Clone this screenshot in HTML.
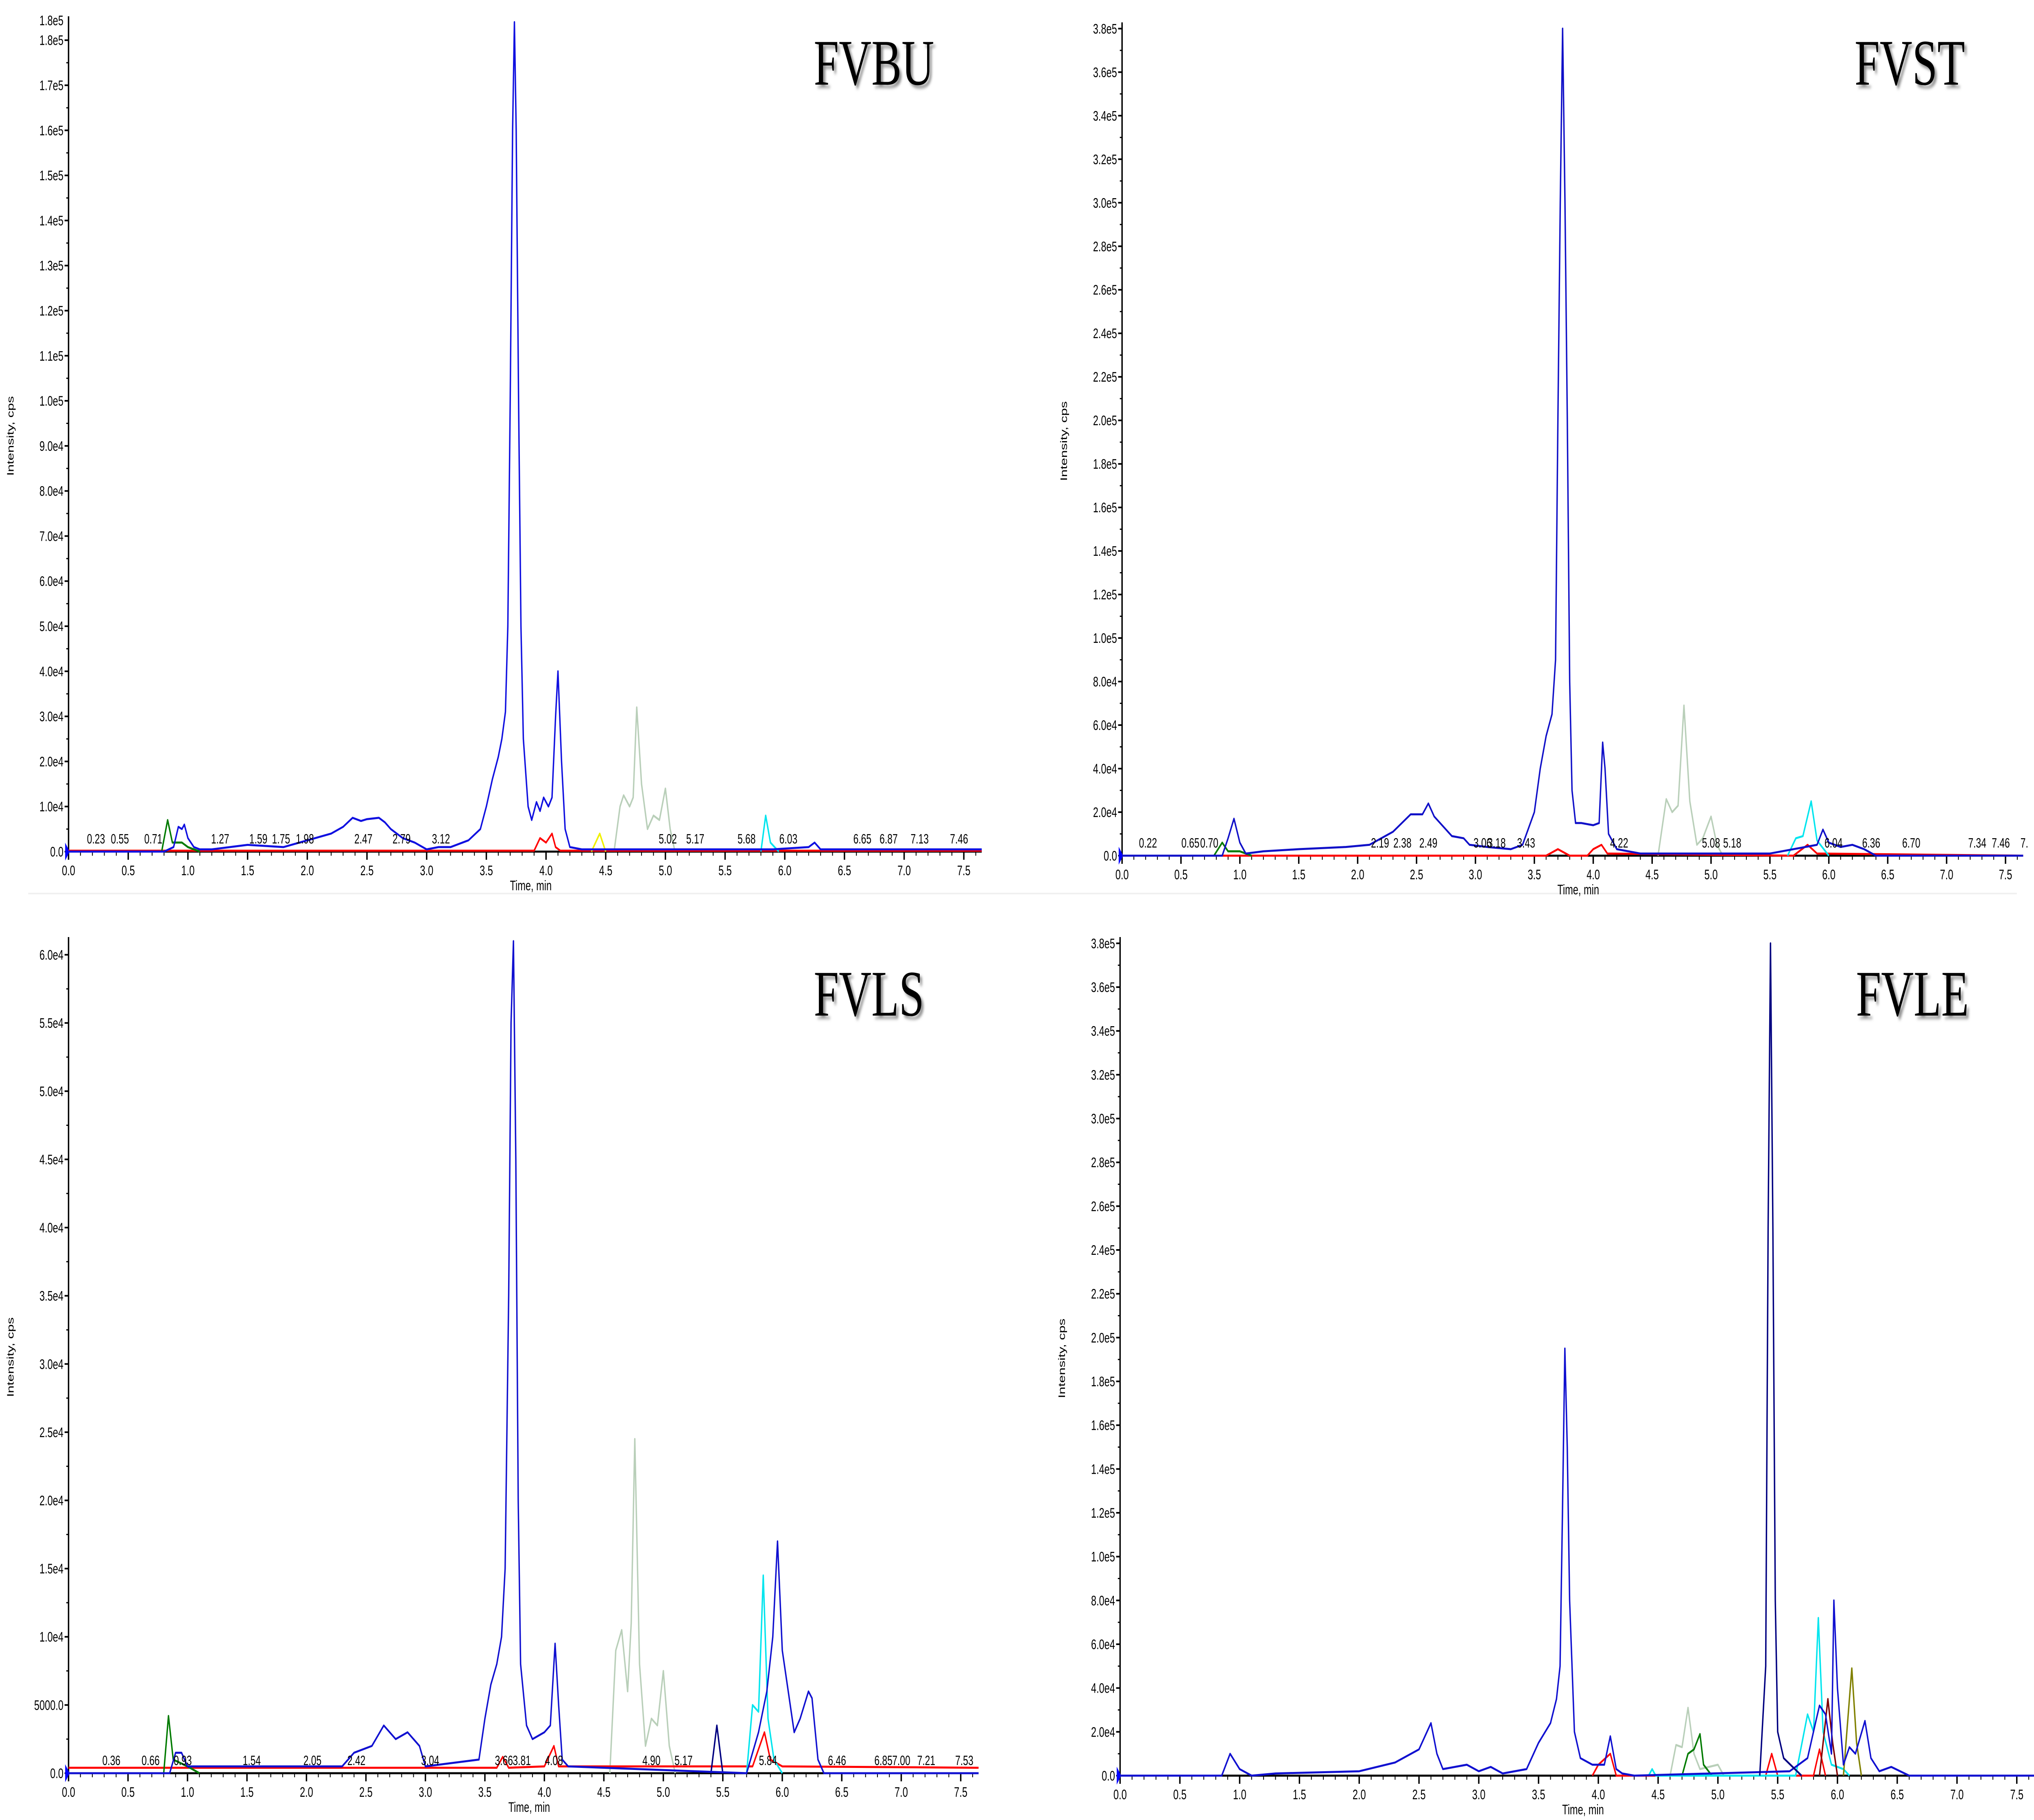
<!DOCTYPE html>
<html><head><meta charset="utf-8"><title>Chromatograms</title>
<style>
html,body{margin:0;padding:0;background:#fff;width:100%;height:100%;overflow:hidden;}
svg{display:block;width:100vw;height:100vh;}
.tk{font-family:"Liberation Sans",sans-serif;font-size:34px;fill:#000;}
.pk{font-family:"Liberation Sans",sans-serif;font-size:33px;fill:#000;}
.ttl{font-family:"Liberation Serif",serif;font-size:160px;fill:#000;}
</style></head>
<body>
<svg id="chart" xmlns="http://www.w3.org/2000/svg" viewBox="0 0 7211 4473" preserveAspectRatio="none">
<defs><filter id="sh" x="-10%" y="-10%" width="130%" height="140%"><feDropShadow dx="8" dy="8" stdDeviation="4" flood-color="#777" flood-opacity="0.8"/></filter></defs>
<rect width="7211" height="4473" fill="#fff"/>
<line x1="100" y1="2196" x2="7150" y2="2196" stroke="#f0f0f0" stroke-width="4"/>
</svg>
<script>
// ===== data (intensity in units of 1e4 cps, time in min) =====
// FVBU
const buBlueT=[0,0.8,0.88,0.92,0.95,0.97,1.0,1.05,1.1,1.2,1.5,1.8,2.0,2.2,2.3,2.38,2.45,2.5,2.6,2.65,2.7,2.8,2.9,3.0,3.1,3.2,3.35,3.45,3.5,3.55,3.6,3.63,3.66,3.68,3.70,3.72,3.735,3.75,3.77,3.79,3.81,3.85,3.88,3.92,3.95,3.98,4.02,4.05,4.08,4.10,4.13,4.16,4.2,4.3,5.9,6.2,6.25,6.3,7.65];
const buBlueV=[0,0,0.1,0.55,0.5,0.6,0.3,0.1,0.05,0.05,0.15,0.1,0.25,0.4,0.55,0.75,0.68,0.72,0.75,0.65,0.5,0.3,0.2,0.05,0.1,0.1,0.25,0.5,1.0,1.6,2.1,2.5,3.1,5,10,16,18.4,16,10,5,2.5,1.0,0.7,1.1,0.9,1.2,1.0,1.2,3.0,4.0,2.0,0.5,0.1,0.05,0.05,0.1,0.2,0.05,0.05];
const buGrayT=[4.57,4.62,4.65,4.7,4.73,4.76,4.80,4.85,4.9,4.95,5.0,5.04,5.08];
const buGrayV=[0,1.0,1.25,1.0,1.2,3.2,1.5,0.5,0.8,0.7,1.4,0.5,0];
const buGreenT=[0.78,0.83,0.87,0.95,1.0,1.1];
const buGreenV=[0,0.7,0.2,0.2,0.1,0];
const buRedT=[0,3.9,3.95,4.0,4.05,4.08,4.12,7.65];
const buRedV=[0.02,0.02,0.3,0.2,0.4,0.1,0.02,0.02];
const buYellowT=[4.38,4.45,4.5];
const buYellowV=[0,0.4,0];
const buCyanT=[5.8,5.84,5.88,5.95];
const buCyanV=[0,0.8,0.2,0];
const buPeakLabels=["0.23","0.55","0.71","1.27","1.59","1.75","1.98","2.47","2.79","3.12","5.02","5.17","5.68","6.03","6.65","6.87","7.13","7.46"];
const buPeakTimes=[0.23,0.43,0.71,1.27,1.59,1.78,1.98,2.47,2.79,3.12,5.02,5.25,5.68,6.03,6.65,6.87,7.13,7.46];
// FVST
const stBlueT=[0,0.85,0.9,0.95,1.0,1.05,1.2,1.5,1.9,2.1,2.3,2.45,2.55,2.6,2.65,2.8,2.9,2.95,3.1,3.3,3.4,3.5,3.55,3.6,3.65,3.68,3.7,3.72,3.74,3.76,3.78,3.8,3.82,3.85,3.9,4.0,4.05,4.08,4.1,4.13,4.2,4.4,5.5,5.9,5.95,6.0,6.1,6.2,6.3,6.4,7.65];
const stBlueV=[0,0,0.8,1.7,0.6,0.1,0.2,0.3,0.4,0.5,1.1,1.9,1.9,2.4,1.8,0.9,0.8,0.5,0.4,0.3,0.5,2,4,5.5,6.5,9,20,30,38,30,20,8,3,1.5,1.5,1.4,1.5,5.2,4.0,1.0,0.3,0.1,0.1,0.5,1.2,0.6,0.4,0.5,0.3,0,0];
const stGrayT=[4.55,4.62,4.67,4.72,4.77,4.82,4.88,4.93,5.0,5.05,5.1];
const stGrayV=[0,2.6,2.0,2.3,6.9,2.5,0.5,0.8,1.8,0.5,0];
const stCyanT=[5.65,5.72,5.78,5.85,5.9,6.0];
const stCyanV=[0,0.8,0.9,2.5,0.7,0];
const stRedT=[0,3.6,3.7,3.8,3.95,4.0,4.07,4.12,5.7,5.82,5.9,7.65];
const stRedV=[0,0,0.3,0,0,0.3,0.5,0.1,0,0.5,0.1,0];
const stGreenT=[0.78,0.85,0.9,1.0,1.1];
const stGreenV=[0,0.6,0.2,0.2,0];
const stPeakLabels=["0.22","0.65","0.70","2.19","2.38","2.49","3.06","3.18","3.43","4.22","5.08","5.18","6.04","6.36","6.70","7.34","7.46","7."];
const stPeakTimes=[0.22,0.58,0.74,2.19,2.38,2.60,3.06,3.18,3.43,4.22,5.0,5.18,6.04,6.36,6.70,7.26,7.46,7.66];
// FVLS
const lsBlueT=[0,0.85,0.9,0.95,1.0,2.3,2.4,2.55,2.65,2.75,2.85,2.95,3.0,3.45,3.5,3.55,3.6,3.64,3.67,3.7,3.72,3.74,3.76,3.78,3.8,3.85,3.9,4.0,4.05,4.09,4.12,4.15,4.2,5.7,5.8,5.87,5.92,5.96,6.0,6.05,6.1,6.15,6.22,6.25,6.3,6.35,7.65];
const lsBlueV=[0,0,0.15,0.15,0.05,0.05,0.15,0.2,0.35,0.25,0.3,0.2,0.05,0.1,0.4,0.65,0.8,1.0,1.5,3.5,5.5,6.1,4.5,2.0,0.8,0.35,0.25,0.3,0.35,0.95,0.5,0.1,0.05,0,0.3,0.6,1.0,1.7,0.9,0.6,0.3,0.4,0.6,0.55,0.1,0,0];
const lsNavyT=[5.4,5.45,5.5];
const lsNavyV=[0,0.35,0];
const lsGrayT=[4.55,4.6,4.65,4.7,4.73,4.76,4.8,4.85,4.9,4.95,5.0,5.05,5.1];
const lsGrayV=[0,0.9,1.05,0.6,1.1,2.45,0.8,0.2,0.4,0.35,0.75,0.2,0];
const lsCyanT=[5.7,5.75,5.8,5.84,5.88,5.93,6.0];
const lsCyanV=[0,0.5,0.45,1.45,0.4,0.1,0];
const lsGreenT=[0.8,0.84,0.88,1.0,1.1];
const lsGreenV=[0,0.42,0.1,0.05,0];
const lsRedT=[0,3.6,3.65,3.7,4.0,4.08,4.12,5.75,5.85,5.9,6.0,7.65];
const lsRedV=[0.04,0.04,0.12,0.04,0.05,0.2,0.05,0.05,0.3,0.1,0.05,0.04];
const lsPeakLabels=["0.36","0.66","0.93","1.54","2.05","2.42","3.04","3.66","3.81","4.08","4.90","5.17","5.84","6.46","6.85","7.00","7.21","7.53"];
const lsPeakTimes=[0.36,0.69,0.96,1.54,2.05,2.42,3.04,3.66,3.81,4.08,4.90,5.17,5.88,6.46,6.85,7.00,7.21,7.53];
// FVLE
const leBlueT=[0,0.85,0.92,1.0,1.1,1.3,2.0,2.3,2.5,2.6,2.65,2.7,2.9,3.0,3.1,3.2,3.4,3.5,3.6,3.65,3.68,3.7,3.72,3.74,3.76,3.8,3.85,3.95,4.05,4.1,4.15,4.2,4.3,5.6,5.75,5.82,5.85,5.9,5.95,5.97,6.0,6.05,6.1,6.15,6.23,6.28,6.35,6.45,6.6,7.65];
const leBlueV=[0,0,1.0,0.3,0,0.1,0.2,0.6,1.2,2.4,1.0,0.3,0.5,0.2,0.4,0.1,0.3,1.5,2.4,3.5,5,12,19.5,15,8,2,0.8,0.5,0.5,1.8,0.3,0.1,0,0.2,0.8,2.5,3.2,2.8,1.0,8,4,0.5,1.3,1.0,2.5,0.8,0.2,0.4,0,0];
const leNavyT=[5.35,5.4,5.42,5.44,5.46,5.48,5.5,5.55,5.7];
const leNavyV=[0,5,25,38,25,8,2,0.8,0];
const leGrayT=[4.6,4.65,4.7,4.75,4.8,4.85,5.0,5.05];
const leGrayV=[0,1.4,1.3,3.1,1.0,0.3,0.5,0];
const leGreenT=[4.7,4.75,4.8,4.85,4.88,4.95];
const leGreenV=[0,1.0,1.2,1.9,0.5,0];
const leCyanT=[4.42,4.45,4.48,5.65,5.75,5.8,5.84,5.88,5.95,6.05,6.1];
const leCyanV=[0,0.3,0,0,2.8,2.0,7.2,2.0,0.5,0.3,0];
const leBrownT=[5.85,5.92,5.96,6.0];
const leBrownV=[0,3.5,1.5,0];
const leOliveT=[6.05,6.12,6.16,6.2];
const leOliveV=[0,4.9,1.5,0];
const leRedT=[3.95,4.0,4.1,4.15,5.4,5.45,5.5,5.8,5.85,5.9];
const leRedV=[0,0.5,1.0,0,0,1.0,0,0,1.2,0];
const lePeakLabels=[];
const lePeakTimes=[];
// y tick values (1e4 units)
const buYTicks=[0,1,2,3,4,5,6,7,8,9,10,11,12,13,14,15,16,17,18];
const stYTicks=[0,2,4,6,8,10,12,14,16,18,20,22,24,26,28,30,32,34,36,38];
const lsYTicks=[0,0.5,1,1.5,2,2.5,3,3.5,4,4.5,5,5.5,6];
const leYTicks=[0,2,4,6,8,10,12,14,16,18,20,22,24,26,28,30,32,34,36,38];
const xTicks=[0,0.5,1,1.5,2,2.5,3,3.5,4,4.5,5,5.5,6,6.5,7,7.5];

// ===== rendering =====
const NS="http://www.w3.org/2000/svg";
const svg=document.getElementById('chart');
function mk(tag,attrs,parent){const e=document.createElementNS(NS,tag);for(const k in attrs)e.setAttribute(k,attrs[k]);(parent||svg).appendChild(e);return e;}
function fmtY(v,step){
  if(v===0)return "0.0";
  if(step<1){return (v*1e4)>=1e4? (v).toFixed(1)+"e4" : (v*1e4).toFixed(1);}
  if(v>=10)return (v/10).toFixed(1)+"e5";
  return v.toFixed(1)+"e4";
}
const panels=[
 {key:'fvbu',title:'FVBU',x0:243,x1:3417,yb:2093,top:50,ymax:18.44,ticks:buYTicks,tx:2885,ty:208,
  series:[['gray',buGrayT,buGrayV,'#b9cfb9'],['red',buRedT,buRedV,'#ff0000'],['green',buGreenT,buGreenV,'#007a00'],['yellow',buYellowT,buYellowV,'#f0f000'],['cyan',buCyanT,buCyanV,'#00e5ee'],['blue',buBlueT,buBlueV,'#1010e0']],
  pl:buPeakLabels,pt:buPeakTimes,topLabel:"1.8e5"},
 {key:'fvst',title:'FVST',x0:3978,x1:7110,yb:2103,top:65,ymax:38.1,ticks:stYTicks,tx:6575,ty:208,
  series:[['gray',stGrayT,stGrayV,'#b9cfb9'],['red',stRedT,stRedV,'#ff0000'],['green',stGreenT,stGreenV,'#007a00'],['cyan',stCyanT,stCyanV,'#00e5ee'],['blue',stBlueT,stBlueV,'#1010c8']],
  pl:stPeakLabels,pt:stPeakTimes},
 {key:'fvls',title:'FVLS',x0:243,x1:3406,yb:4358,top:2313,ymax:6.1,ticks:lsYTicks,tx:2885,ty:2496,
  series:[['gray',lsGrayT,lsGrayV,'#b9cfb9'],['red',lsRedT,lsRedV,'#ff0000'],['green',lsGreenT,lsGreenV,'#007a00'],['cyan',lsCyanT,lsCyanV,'#00e5ee'],['navy',lsNavyT,lsNavyV,'#000080'],['blue',lsBlueT,lsBlueV,'#1010d0']],
  pl:lsPeakLabels,pt:lsPeakTimes},
 {key:'fvle',title:'FVLE',x0:3971,x1:7150,yb:4364,top:2313,ymax:38.1,ticks:leYTicks,tx:6580,ty:2496,
  series:[['gray',leGrayT,leGrayV,'#b9cfb9'],['red',leRedT,leRedV,'#ff0000'],['green',leGreenT,leGreenV,'#007a00'],['cyan',leCyanT,leCyanV,'#00e5ee'],['brown',leBrownT,leBrownV,'#800000'],['olive',leOliveT,leOliveV,'#808000'],['blue',leBlueT,leBlueV,'#1010d0'],['navy',leNavyT,leNavyV,'#000080']],
  pl:lePeakLabels,pt:lePeakTimes}
];
panels.forEach(p=>{
  const g=mk('g',{});
  
  
  const xs=t=>p.x0+(p.x1-p.x0)*t/7.5;
  const ys=v=>p.yb-(p.yb-p.top)*v/p.ymax;
  const xEnd=xs(7.65);
  const ya=mk('line',{x1:p.x0,y1:p.top-10,x2:p.x0,y2:p.yb,stroke:'#000','stroke-width':5},g);
  
  const xa=mk('line',{x1:p.x0,y1:p.yb,x2:xEnd,y2:p.yb,stroke:'#000','stroke-width':5},g);
  
  const step=p.ticks[1]-p.ticks[0];
  p.ticks.forEach(v=>{
    const y=ys(v);
    mk('line',{x1:p.x0-14,y1:y,x2:p.x0,y2:y,stroke:'#000','stroke-width':4},g);
    const t=mk('text',{x:p.x0-18,y:y+12,'text-anchor':'end',class:'tk'},g);
    t.textContent=fmtY(v,step);
    
    const vm=v+step/2;
    if(vm<=p.ymax) mk('line',{x1:p.x0-8,y1:ys(vm),x2:p.x0,y2:ys(vm),stroke:'#000','stroke-width':3},g);
  });
  if(p.topLabel){const t=mk('text',{x:p.x0-18,y:p.top+12,'text-anchor':'end',class:'tk'},g);t.textContent=p.topLabel;
    }
  for(let i=0;i<=76;i++){const t=i/10;const x=xs(t);const major=(i%5===0);
    mk('line',{x1:x,y1:p.yb,x2:x,y2:p.yb+(major?20:10),stroke:'#000','stroke-width':major?5:3},g);}
  xTicks.forEach(v=>{const t=mk('text',{x:xs(v),y:p.yb+58,'text-anchor':'middle',class:'tk'},g);t.textContent=v.toFixed(1);
    });
  const m=mk('path',{d:`M${p.x0-12},${p.yb-22} L${p.x0+4},${p.yb} L${p.x0-12},${p.yb+22} Z`,fill:'#0000ff'},g);
  
  const xt=mk('text',{x:(p.x0+xEnd)/2+20,y:p.yb+95,'text-anchor':'middle',class:'tk'},g);xt.textContent='Time, min';
  
  const cy=(p.top+p.yb)/2;const cx=p.x0-195;
  const yt=mk('text',{x:cx,y:cy,'text-anchor':'middle',class:'tk',transform:`rotate(-90 ${cx} ${cy})`},g);yt.textContent='Intensity, cps';
  
  p.series.forEach(s=>{
    const [nm,T,V,col]=s;
    const d=T.map((t,i)=>(i?'L':'M')+xs(t).toFixed(1)+','+ys(V[i]).toFixed(1)).join(' ');
    const path=mk('path',{d:d,fill:'none',stroke:col,'stroke-width':5,'stroke-linejoin':'round'},g);
    
    
  });
  p.pl.forEach((lab,i)=>{const t=mk('text',{x:xs(p.pt[i]),y:p.yb-20,'text-anchor':'middle',class:'pk'},g);t.textContent=lab;
    });
  const tt=mk('text',{x:p.tx,y:p.ty,class:'ttl',filter:'url(#sh)'},g);tt.textContent=p.title;
  
});
</script>
</body></html>
